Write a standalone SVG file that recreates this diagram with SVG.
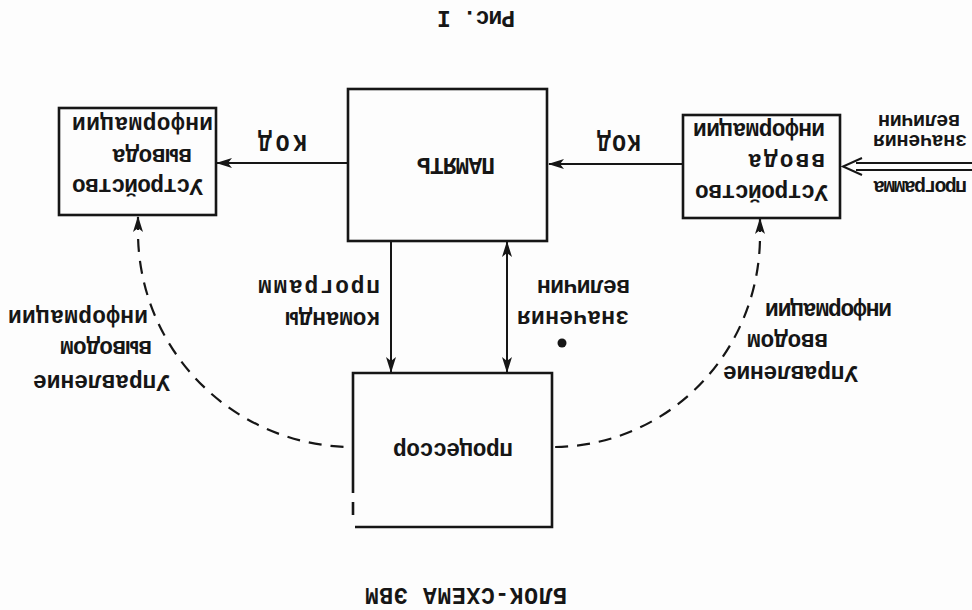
<svg xmlns="http://www.w3.org/2000/svg" width="972" height="610" viewBox="0 0 972 610">
<defs>
<style>
.box{fill:none;stroke:#161616;stroke-width:2.6;stroke-linejoin:miter}
.ln{fill:none;stroke:#161616;stroke-width:2}
.dash{fill:none;stroke:#161616;stroke-width:2.2;stroke-dasharray:13 9}
.t{font-family:"Liberation Mono","DejaVu Sans Mono",monospace;font-size:23px;font-weight:bold;fill:#161616;text-anchor:middle}
.s{font-size:20px}
</style>
<marker id="ah" markerUnits="userSpaceOnUse" viewBox="0 0 16 10" markerWidth="16" markerHeight="10" refX="15" refY="5" orient="auto-start-reverse">
<path d="M0,0 L16,5 L0,10 L4,5 z" fill="#161616"/>
</marker>
</defs>
<rect width="972" height="610" fill="#fdfdfd"/>

<g id="title">
<text class="t" x="476" y="11" textLength="78" transform="rotate(180 476 11)">Рис. I</text>
</g>

<g id="output-device">
<rect class="box" x="59" y="108" width="157" height="107"/>
<text class="t" x="142.5" y="117" textLength="141" transform="rotate(180 142.5 117)">информации</text>
<text class="t" x="152" y="149" textLength="80" transform="rotate(180 152 149)">вывода</text>
<text class="t" x="137.5" y="179" textLength="131" transform="rotate(180 137.5 179)">Устройство</text>
</g>

<g id="memory">
<rect class="box" x="348" y="89" width="199" height="152"/>
<text class="t" x="456" y="158" textLength="78" transform="rotate(180 456 158)">ПАМЯТЬ</text>
</g>

<g id="input-device">
<rect class="box" x="683" y="115" width="157" height="103"/>
<text class="t" x="759" y="123" textLength="132" transform="rotate(180 759 123)">информации</text>
<text class="t" x="786.5" y="154" textLength="77" transform="rotate(180 786.5 154)">ввода</text>
<text class="t" x="761.5" y="185" textLength="133" transform="rotate(180 761.5 185)">Устройство</text>
</g>

<g id="processor">
<path class="box" d="M353,493 L353,373 L552,373 L552,527 L355,527 M353,502 L353,515"/>
<text class="t" x="453" y="443" textLength="120" transform="rotate(180 453 443)">процессор</text>
</g>

<g id="connectors">
<path class="ln" d="M347,163 L217,163" marker-end="url(#ah)"/>
<path class="ln" d="M683,164 L549,164" marker-end="url(#ah)"/>
<path class="ln" d="M391,242 L391,372" marker-end="url(#ah)"/>
<path class="ln" d="M507,242 L507,372" marker-start="url(#ah)" marker-end="url(#ah)"/>
<path class="ln" d="M972,163 L856,163 M972,170 L856,170 M862,158 L843,166.5 L862,175"/>
<path class="dash" d="M138,217 L138,232 A215,215 0 0 0 353,447" marker-start="url(#ah)"/>
<path class="dash" d="M760,219 L760,236 A207,211 0 0 1 553,447" marker-start="url(#ah)"/>
<circle cx="562" cy="343" r="4.5" fill="#161616"/>
</g>

<g id="labels">
<text class="t" x="282.5" y="135" textLength="49" transform="rotate(180 282.5 135)">КОД</text>
<text class="t" x="619" y="135" textLength="44" transform="rotate(180 619 135)">КОД</text>
<text class="t s" x="920" y="181" textLength="94" transform="rotate(180 920 181)">программа</text>
<text class="t s" x="920" y="135" textLength="94" transform="rotate(180 920 135)">значения</text>
<text class="t s" x="919" y="115" textLength="82" transform="rotate(180 919 115)">величин</text>
<text class="t" x="319" y="280" textLength="122" transform="rotate(180 319 280)">программ</text>
<text class="t" x="332.5" y="312" textLength="95" transform="rotate(180 332.5 312)">команды</text>
<text class="t" x="583.5" y="280" textLength="93" transform="rotate(180 583.5 280)">величин</text>
<text class="t" x="573" y="311" textLength="112" transform="rotate(180 573 311)">значения</text>
<text class="t" x="78" y="310" textLength="140" transform="rotate(180 78 310)">информации</text>
<text class="t" x="106" y="341" textLength="92" transform="rotate(180 106 341)">выводом</text>
<text class="t" x="101.5" y="375" textLength="137" transform="rotate(180 101.5 375)">Управление</text>
<text class="t" x="828.5" y="303" textLength="127" transform="rotate(180 828.5 303)">информации</text>
<text class="t" x="787.5" y="334" textLength="81" transform="rotate(180 787.5 334)">вводом</text>
<text class="t" x="790.5" y="366" textLength="135" transform="rotate(180 790.5 366)">Управление</text>
</g>

<g id="caption">
<text class="t" x="466" y="588" textLength="202" transform="rotate(180 466 588)">БЛОК-СХЕМА  ЭВМ</text>
</g>
</svg>
